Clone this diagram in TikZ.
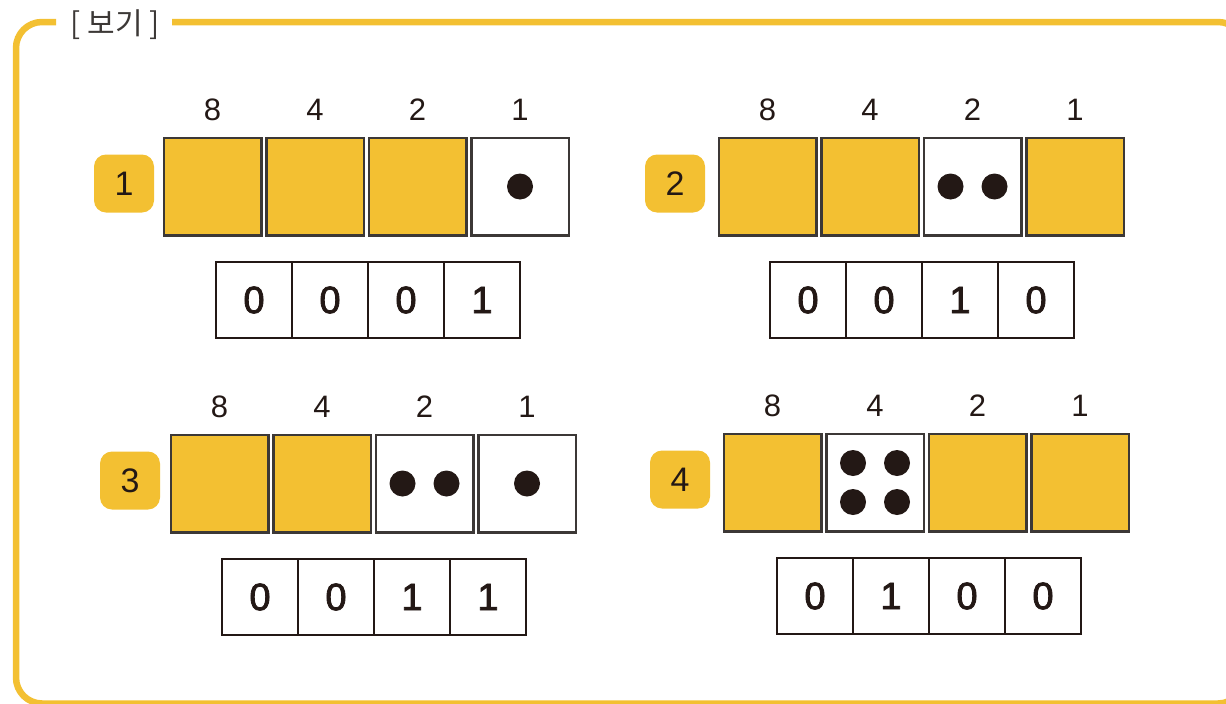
\documentclass[tikz,border=0pt]{standalone}
\usepackage{fontspec}
\setmainfont{Liberation Sans}
\newfontfamily\kofont{Noto Sans CJK KR}
\newfontfamily\bitfont[FakeBold=2.2]{Liberation Sans}
\usetikzlibrary{calc}
\definecolor{yolk}{RGB}{243,192,50}
\definecolor{ink}{RGB}{35,24,21}
\definecolor{rim}{RGB}{60,56,54}
\tikzset{
  numtag/.style={fill=yolk,rounded corners=12pt,minimum width=60pt,minimum height=58pt,
    inner sep=0pt,text=ink,font=\fontsize{34}{34}\selectfont},
  cell/.style={draw=rim,line width=2.5pt,minimum size=97.5pt,inner sep=0pt},
  weight/.style={text=ink,inner sep=0pt,font=\fontsize{31}{31}\selectfont},
  bitcell/.style={draw=ink,line width=2pt,minimum size=76pt,inner sep=0pt,text=ink,
    font=\bitfont\fontsize{38}{38}\selectfont}
}

\begin{document}
\begin{tikzpicture}[x=1pt,y=-1pt]
        \useasboundingbox (0,0) rectangle (1226,704);
        \clip (0,0) rectangle (1226,704);
        % frame and title
        \draw[yolk,line width=6.5pt,rounded corners=26pt] (56,22) -- (16,22) -- (16,703.5)
          -- (1244,703.5) -- (1244,22) -- (172,22);
        \node[text=rim,font=\kofont\fontsize{30}{30}\selectfont] (title) at (115,25) {[ 보기 ]};
        % four examples
        \foreach \p/\ox/\oy/\lx/\bx/\bA/\bB/\bC/\bD in {1/163/137/124/216/0/0/0/1,
            2/718/137/675/770/0/0/1/0, 3/170/434/130/222/0/0/1/1, 4/723/433/680/777/0/1/0/0} {
          \node[numtag] (tag\p) at (\lx,\oy+46.5) {\p};
          \foreach \i/\w/\v/\dotlist in {0/8/\bA/{0/0}, 1/4/\bB/{-22/-19.5,22/-19.5,-22/19.5,22/19.5},
              2/2/\bC/{-22/0,22/0}, 3/1/\bD/{0/0}} {
            \ifnum\v=1 \def\cellfill{white}\else\def\cellfill{yolk}\fi
            \node[cell,fill=\cellfill] (sq\p\i) at (\ox+\i*102.5+49.5,\oy+49.5) {};
            \node[weight] (wt\p\i) at (\ox+\i*102.5+49.5,\oy-27) {\w};
            \node[bitcell] (bit\p\i) at (\bx+\i*76+38,\oy+163) {\v};
            \ifnum\v=1
              \foreach \dx/\dy in \dotlist \fill[ink] ($(sq\p\i)+(\dx,\dy)$) circle (13);
            \fi
          }
        }
      \end{tikzpicture}
\end{document}
